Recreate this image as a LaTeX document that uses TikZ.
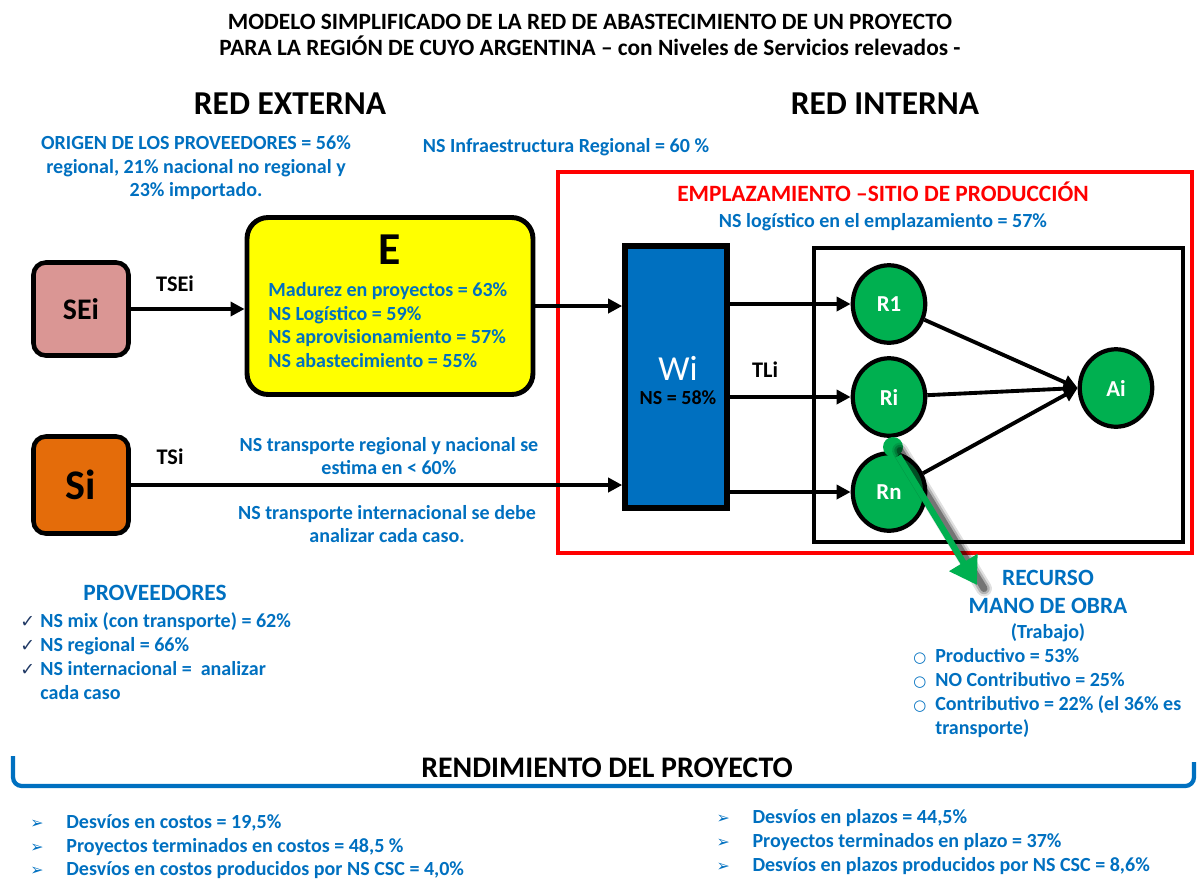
\documentclass[tikz,border=0pt]{standalone}
\usepackage{fontspec}
\setmainfont{Carlito}
\newfontfamily\symfont{DejaVu Sans}
\usetikzlibrary{shapes.geometric, arrows.meta, positioning}

\definecolor{nsblue}{RGB}{0,112,192}
\definecolor{nsred}{RGB}{255,0,0}
\definecolor{nsgreen}{RGB}{0,176,80}
\definecolor{nsyellow}{RGB}{255,255,0}
\definecolor{nspink}{RGB}{218,150,148}
\definecolor{nsorange}{RGB}{228,108,10}
\definecolor{nsnavy}{RGB}{31,56,100}

\newcommand{\chk}{\makebox[11.4pt][l]{\color{nsnavy}\symfont\fontsize{10}{9}\selectfont ✓}}
\newcommand{\rnd}{\makebox[12.5pt][l]{\symfont\fontsize{8.5}{8}\selectfont ○}}
\newcommand{\flecha}{\makebox[20.5pt][l]{\symfont\fontsize{9}{8}\selectfont ➢}}

\begin{document}
\begin{tikzpicture}[x=0.02cm, y=-0.02cm,
  title/.style={font=\bfseries\fontsize{13.3}{14.8}\selectfont, align=center, inner sep=0},
  head/.style={font=\bfseries\fontsize{19}{22}\selectfont, inner sep=0},
  info/.style={text=nsblue, align=center, font=\bfseries\fontsize{11.4}{13.4}\selectfont, inner sep=0},
  infolist/.style={info, align=left, font=\bfseries\fontsize{11.4}{13.6}\selectfont},
  tag/.style={font=\bfseries\fontsize{12.7}{14}\selectfont, inner sep=0},
  srcbox/.style={rectangle, rounded corners=7pt, draw=black, line width=2.6pt,
                 minimum width=1.9cm, minimum height=1.86cm, inner sep=0},
  res/.style={ellipse, draw=black, line width=2.4pt, fill=nsgreen,
              minimum width=1.45cm, minimum height=1.55cm, text=white,
              font=\bfseries\fontsize{13}{14}\selectfont},
  arrow/.style={-{Triangle[length=8pt, width=8pt]}, line width=2.2pt}
]
\useasboundingbox (0,0) rectangle (1198,880);

% titles
\node[title] (titulo) at (590,35)
  {MODELO SIMPLIFICADO DE LA RED DE ABASTECIMIENTO DE UN PROYECTO\\
   PARA LA REGIÓN DE CUYO ARGENTINA -- con Niveles de Servicios relevados -};
\node[head] (redext) at (290,104) {RED EXTERNA};
\node[head] (redint) at (885,104) {RED INTERNA};

\node[info] (origen) at (196,168)
  {ORIGEN DE LOS PROVEEDORES = 56\%\\regional, 21\% nacional no regional y\\23\% importado.};
\node[info] (infra) at (566,147) {NS Infraestructura Regional = 60 \%};

% production site
\draw[nsred, line width=2.2pt] (558,172) rectangle (1192,553);
\node[info, text=nsred, font=\bfseries\fontsize{13.3}{15}\selectfont] (emplaz) at (883,192)
  {EMPLAZAMIENTO --SITIO DE PRODUCCIÓN};
\node[info, below=6pt of emplaz] (nslog) {NS logístico en el emplazamiento = 57\%};
\draw[line width=2pt] (814,248) rectangle (1183,542);

% external network
\node[srcbox, fill=nspink, font=\bfseries\fontsize{17}{20}\selectfont] (sei) at (81,309) {SEi};
\node[srcbox, fill=nsorange, font=\bfseries\fontsize{24}{28}\selectfont,
      minimum height=1.94cm] (si) at (81,485) {Si};

\node[rectangle, rounded corners=12pt, draw=black, line width=2.8pt, fill=nsyellow,
      minimum width=5.72cm, minimum height=3.54cm] (ebox) at (390,306) {};
\node[font=\bfseries\fontsize{26}{30}\selectfont, inner sep=0] (e) at (390,250) {E};
\node[infolist, anchor=west] (elist) at (268,325)
  {Madurez en proyectos = 63\%\\NS Logístico = 59\%\\NS aprovisionamiento = 57\%\\NS abastecimiento = 55\%};

\node[rectangle, draw=black, line width=3.2pt, fill=nsblue, minimum width=2.04cm,
      minimum height=5.24cm, inner sep=0] (wi) at (676,377) {};
\node[text=white, font=\fontsize{20}{24}\selectfont, inner sep=0] (winame) at (678,368) {Wi};
\node[font=\bfseries\fontsize{11.4}{13}\selectfont, inner sep=0] (wins) at (678,398) {NS = 58\%};

\node[tag] (tsei) at (175,284) {TSEi};
\node[tag] (tsi) at (170,457) {TSi};
\node[tag] (tli) at (765,370) {TLi};

\node[info] (tnac) at (389,456) {NS transporte regional y nacional se\\estima en < 60\%};
\node[info] (tint) at (387,524) {NS transporte internacional se debe\\analizar cada caso.};

% resources and activity
\node[res] (r1) at (889,304) {R1};
\node[res] (ri) at (889,397) {Ri};
\node[res] (rn) at (889,492) {Rn};
\node[res] (ai) at (1116,388) {Ai};

\draw[arrow] (sei.east) -- (sei.east -| ebox.west);
\draw[arrow] (ebox.east) -- (ebox.east -| wi.west);
\draw[arrow] (si.east) -- (si.east -| wi.west);
\draw[arrow] (wi.east |- r1) -- (r1);
\draw[arrow] (wi.east |- ri) -- (ri);
\draw[arrow] (wi.east |- rn) -- (rn);
\draw[arrow] (r1) -- (ai.west);
\draw[arrow] (ri) -- (ai.west);
\draw[arrow] (rn) -- (ai.west);

% labour link
\node[circle, fill=nsgreen, minimum size=0.4cm, inner sep=0] (rdot) at (893,447) {};
\coordinate (mo) at (977,585);
\foreach \w/\o in {9pt/0.12, 6.5pt/0.2, 4pt/0.35}
  \draw[black, opacity=\o, line width=\w, line cap=round]
    ([xshift=4pt, yshift=-2pt]rdot.center) -- ([xshift=4pt, yshift=-2pt]mo);
\draw[nsgreen, line width=3.6pt, -{Triangle[length=15pt, width=18pt]}] (rdot) -- (mo);

\node[info, font=\bfseries\fontsize{13.3}{16}\selectfont] (recurso) at (1048,592)
  {RECURSO\\MANO DE OBRA};
\node[info, below=5pt of recurso] (trabajo) {(Trabajo)};
\node[infolist, anchor=west] (molist) at (913,693)
  {\rnd Productivo = 53\%\\\rnd NO Contributivo = 25\%\\\rnd Contributivo = 22\% (el 36\% es\\\hspace*{12.5pt}transporte)};

% suppliers
\node[info, font=\bfseries\fontsize{13.3}{15}\selectfont] (prov) at (155,593) {PROVEEDORES};
\node[infolist, anchor=west] (provlist) at (20,656)
  {\chk NS mix (con transporte) = 62\%\\\chk NS regional = 66\%\\\chk NS internacional =\ \ analizar\\\hspace*{11.4pt}cada caso};

% project performance
\draw[nsblue, line width=2.4pt, rounded corners=5pt] (13,756) -- (13,786) -- (1194,786) -- (1194,762);
\node[head, font=\bfseries\fontsize{17}{20}\selectfont] (rend) at (607,768) {RENDIMIENTO DEL PROYECTO};
\node[infolist, anchor=west, font=\bfseries\fontsize{11.4}{13.4}\selectfont] (costos) at (30,847)
  {\flecha Desvíos en costos = 19,5\%\\\flecha Proyectos terminados en costos = 48,5 \%\\\flecha Desvíos en costos producidos por NS CSC = 4,0\%};
\node[infolist, anchor=west, font=\bfseries\fontsize{11.4}{13.4}\selectfont] (plazos) at (713,842)
  {\makebox[1.8pt]{}\flecha Desvíos en plazos = 44,5\%\\\makebox[1.8pt]{}\flecha Proyectos terminados en plazo = 37\%\\\makebox[1.8pt]{}\flecha Desvíos en plazos producidos por NS CSC = 8,6\%};

\end{tikzpicture}
\end{document}
